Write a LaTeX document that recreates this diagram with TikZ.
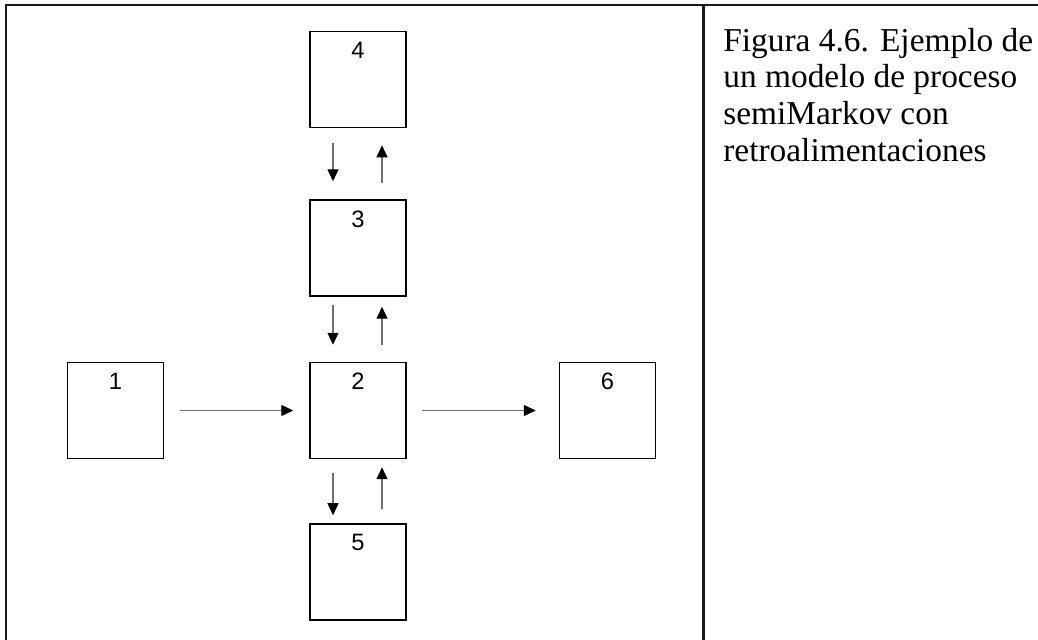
\documentclass[tikz,border=0pt]{standalone}
\usepackage{fontspec}
\setmainfont{Liberation Serif}
\newfontfamily\numfont{Liberation Sans}
\usepackage{tikz}
\usetikzlibrary{arrows.meta, positioning}
\definecolor{arrowgray}{HTML}{707070}

\begin{document}
\begin{tikzpicture}[
        box/.style={draw, line width=0.85pt, minimum size=1.92cm, inner sep=0pt},
        num/.style={font=\numfont\fontsize{13.5}{15}\selectfont, anchor=north, yshift=-0.22cm, inner sep=0pt},
        arr/.style={draw=arrowgray, line width=0.8pt,
                    -{Triangle[length=0.24cm, width=0.22cm, black]}},
        gap/.style 2 args={shorten <=#1, shorten >=#2},
        rule/.style={line width=1.5pt, black!90},
    ]
        \useasboundingbox (0,0) rectangle (20.76,-12.8);

        % table frame
        \coordinate (tl) at (0.12,-0.1);
        \coordinate (tr) at (20.76,-0.1);
        \coordinate (bl) at (0.12,-12.8);
        \coordinate (mt) at (14.07,-0.1);
        \coordinate (mb) at (14.07,-12.8);
        \draw[rule] (bl) -- (tl) -- (tr);
        \draw[rule] (mt) -- (mb);

        % states
        \node[box, label={[num]north:2}] (b2) at (7.16,-8.21) {};
        \node[box, label={[num]north:3}, above=1.3cm of b2]  (b3) {};
        \node[box, label={[num]north:4}, above=1.42cm of b3] (b4) {};
        \node[box, label={[num]north:5}, below=1.28cm of b2] (b5) {};
        \node[box, label={[num]north:1}, left=2.9cm of b2]   (b1) {};
        \node[box, label={[num]north:6}, right=3.04cm of b2] (b6) {};

        % transitions
        \draw[arr, gap={0.32cm}{0.32cm}] (b1) -- (b2);
        \draw[arr, gap={0.3cm}{0.46cm}]  (b2) -- (b6);

        \draw[arr, gap={0.3cm}{0.36cm}]  ([xshift=-0.5cm]b4.south) -- ([xshift=-0.5cm]b3.north);
        \draw[arr, gap={0.32cm}{0.34cm}] ([xshift=0.48cm]b3.north) -- ([xshift=0.48cm]b4.south);
        \draw[arr, gap={0.16cm}{0.34cm}] ([xshift=-0.5cm]b3.south) -- ([xshift=-0.5cm]b2.north);
        \draw[arr, gap={0.34cm}{0.2cm}]  ([xshift=0.48cm]b2.north) -- ([xshift=0.48cm]b3.south);
        \draw[arr, gap={0.28cm}{0.16cm}] ([xshift=-0.5cm]b2.south) -- ([xshift=-0.5cm]b5.north);
        \draw[arr, gap={0.28cm}{0.16cm}] ([xshift=0.48cm]b5.north) -- ([xshift=0.48cm]b2.south);

        % caption
        \node[anchor=north west, align=left, inner sep=0pt,
              font=\fontsize{19}{20.9}\selectfont] (cap) at (14.46,-0.55)
            {Figura 4.6. Ejemplo de\\un modelo de proceso\\semiMarkov con\\retroalimentaciones};
    \end{tikzpicture}
\end{document}
